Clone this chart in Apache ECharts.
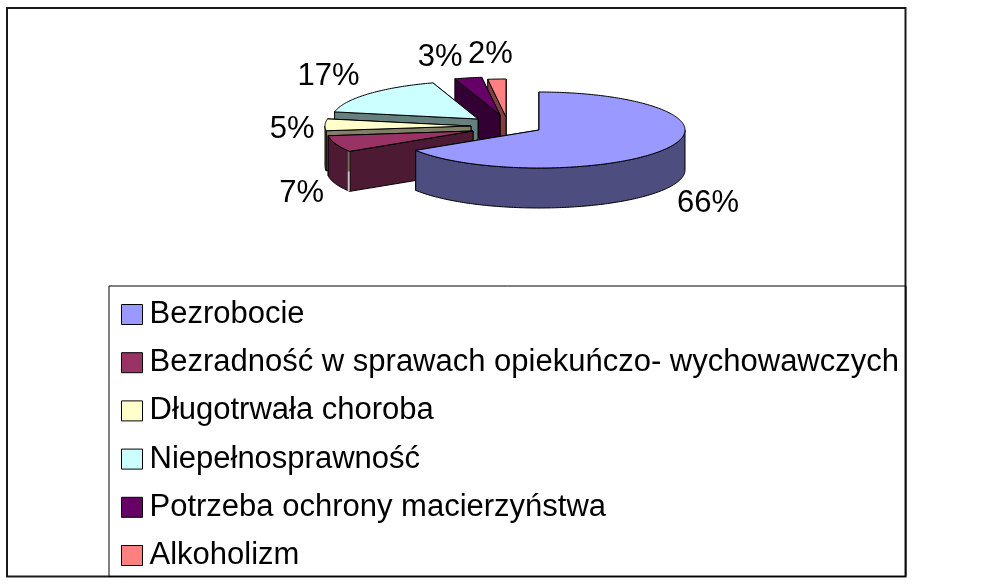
<!DOCTYPE html>
<html>
<head>
<meta charset="utf-8">
<style>html,body{margin:0;padding:0;background:#fff}#c{width:1000px;height:584px}</style>
<script src="https://cdn.jsdelivr.net/npm/echarts@6/dist/echarts.min.js"></script>
</head>
<body>
<div id="c"></div>
<script>
// Data
const categories = ['Bezrobocie','Bezradność w sprawach opiekuńczo- wychowawczych','Długotrwała choroba','Niepełnosprawność','Potrzeba ochrony macierzyństwa','Alkoholizm'];
const values = [66, 7, 5, 17, 3, 2];

// Styles
const topColors  = ['#9999ff','#993366','#ffffcc','#ccffff','#660066','#ff8080'];
const sideColors = ['#4d4d80','#4d1a33','#808066','#668080','#330033','#804040'];
const seamColors = [null,['#6e6e50','#c4c4c4'],null,null,null,null];

// Layout: pie projection, per-slice explosion shift, per-slice label shift from its rim midpoint
const pie = { cx: 539, cy: 130, rx: 146, ry: 38, depth: 40 };
const explode = [[0,0],[-66,1],[-68,-4],[-61,-11],[-39,-15],[-33,-13]];
const labelShift = [[41,55.5],[-34,49.5],[-33,4.5],[-40,-17.5],[-28,-20.5],[-6.5,-24.5]];
const drawZ = [6,5,4,3,2,1];
const FONT = '"Liberation Sans", Arial, sans-serif';

const total = values.reduce((a,b)=>a+b,0);
const rad = d => d*Math.PI/180;

function sliceRenderer(i){
  return function(params, api){
    const v = api.value(0);
    let before = 0;
    for (let k=0;k<i;k++) before += values[k];
    const a0 = before/total*360, a1 = (before+v)/total*360;
    const ox = pie.cx+explode[i][0], oy = pie.cy+explode[i][1];
    const P = (a,dz)=>[ox+pie.rx*Math.sin(rad(a)), oy-pie.ry*Math.cos(rad(a))+(dz||0)];
    const line = {stroke:'#000',lineWidth:1,lineJoin:'round'};
    const side = Object.assign({fill:sideColors[i]},line);
    const top = Object.assign({fill:topColors[i]},line);
    const apex=[ox,oy], apexD=[ox,oy+pie.depth];
    const kids=[];
    const poly=(pts,style)=>kids.push({type:'polygon',shape:{points:pts},style:style,silent:true});
    // cut faces: the hidden one first
    poly([P(a1),apex,apexD,P(a1,pie.depth)],side);
    poly([P(a0),apex,apexD,P(a0,pie.depth)],side);
    // outer wall: only the front half of the rim shows
    const w0=Math.max(a0,90), w1=Math.min(a1,270);
    if (w1>w0){
      const upper=[],lower=[];
      for(let a=w0;a<w1;a+=1){upper.push(P(a));lower.push(P(a,pie.depth));}
      upper.push(P(w1));lower.push(P(w1,pie.depth));
      poly(upper.concat(lower.reverse()),side);
    }
    // thin two-tone seam where wall meets cut face
    if (seamColors[i]){
      const s=P(a0), h=pie.depth/2;
      seamColors[i].forEach((c,k)=>kids.push({type:'line',silent:true,
        shape:{x1:s[0]-1,y1:s[1]+k*h,x2:s[0]-1,y2:s[1]+(k+1)*h},
        style:{stroke:c,lineWidth:2}}));
    }
    // top face
    const rim=[apex];
    for(let a=a0;a<a1;a+=1) rim.push(P(a));
    rim.push(P(a1));
    poly(rim,top);
    // label
    const mid=P((a0+a1)/2);
    kids.push({type:'text',silent:true,style:{
      x:mid[0]+labelShift[i][0], y:mid[1]+labelShift[i][1],
      text:v+'%', fill:'#000', font:'31px '+FONT, align:'center', verticalAlign:'middle'
    }});
    return {type:'group',children:kids};
  };
}

const chart = echarts.init(document.getElementById('c'),null,{renderer:'canvas'});
chart.setOption({
  animation:false,
  backgroundColor:'#fff',
  graphic:[{type:'rect',shape:{x:7,y:8,width:898.5,height:568.5},style:{fill:'none',stroke:'#1a1a1a',lineWidth:2},silent:true,z:-1}],
  legend:{
    orient:'vertical', left:109, top:286,
    data:categories,
    padding:[13,7,5.5,12],
    itemGap:17.2, itemWidth:21, itemHeight:20,
    icon:'rect',
    itemStyle:{borderColor:'#000',borderWidth:1},
    borderColor:'#000', borderWidth:1,
    selectedMode:false,
    textStyle:{fontFamily:FONT,fontSize:31,color:'#000',padding:[0,0,0,2],lineHeight:31}
  },
  series:categories.map((name,i)=>({
    type:'custom', name:name, z:drawZ[i], coordinateSystem:'none', silent:true,
    itemStyle:{color:topColors[i]},
    renderItem:sliceRenderer(i),
    data:[{name:name,value:values[i]}]
  }))
});
</script>
</body>
</html>
